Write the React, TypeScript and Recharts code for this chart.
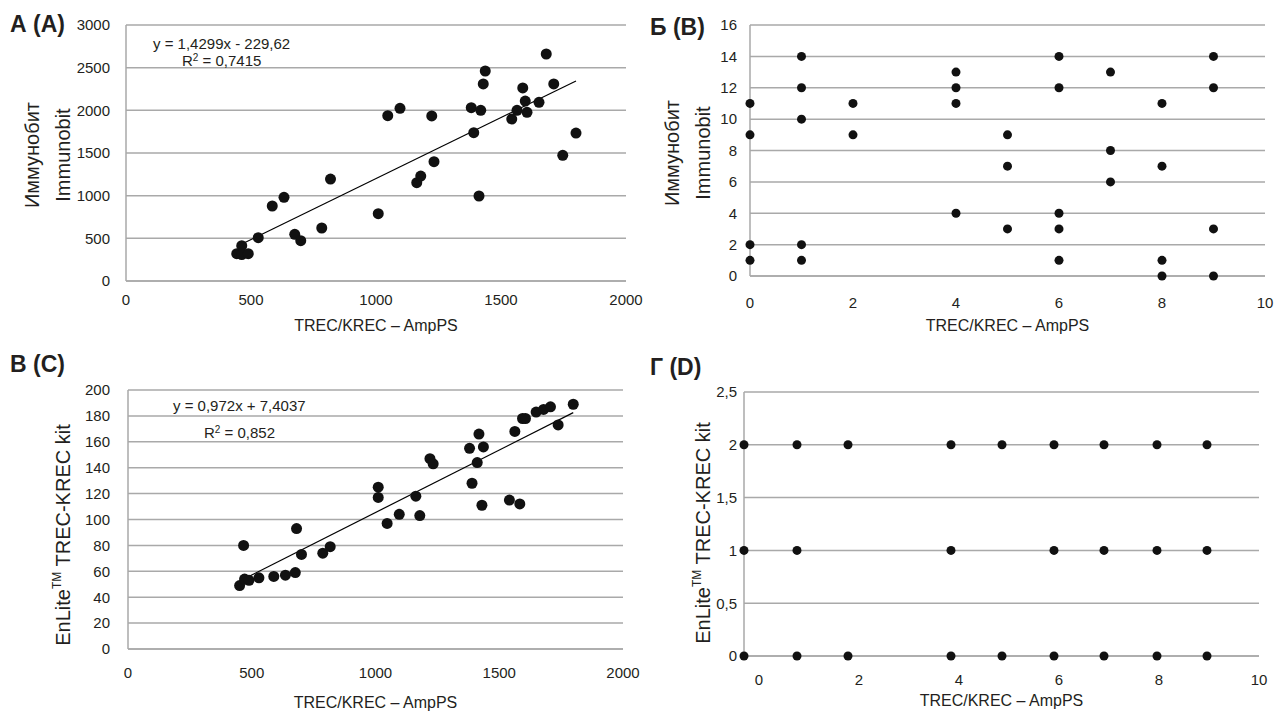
import React from 'react';
import { ScatterChart, Scatter, XAxis, YAxis, CartesianGrid, ReferenceLine } from 'recharts';

// Panel A: Immunobit vs TREC/KREC – AmpPS
const aX = [443, 463, 463, 489, 529, 585, 632, 675, 699, 783, 818, 1009, 1047, 1096, 1163, 1179, 1223, 1232, 1381, 1391, 1412, 1419, 1429, 1437, 1543, 1564, 1587, 1597, 1604, 1652, 1681, 1711, 1747, 1800];
const aY = [320, 414, 310, 320, 508, 879, 981, 547, 473, 621, 1195, 789, 1937, 2023, 1152, 1230, 1934, 1398, 2031, 1738, 996, 2000, 2309, 2461, 1898, 2000, 2262, 2109, 1977, 2094, 2660, 2309, 1473, 1734];
const aTrend = [1.4299, -229.62];

// Panel B
const bX = [0, 0, 0, 0, 1, 1, 1, 1, 1, 2, 2, 4, 4, 4, 4, 5, 5, 5, 6, 6, 6, 6, 6, 7, 7, 7, 8, 8, 8, 8, 9, 9, 9, 9];
const bY = [11, 9, 2, 1, 14, 12, 10, 2, 1, 11, 9, 13, 12, 11, 4, 9, 7, 3, 14, 12, 4, 3, 1, 13, 8, 6, 11, 7, 1, 0, 14, 12, 3, 0];

// Panel C: EnLite vs TREC/KREC – AmpPS
const cX = [451, 471, 489, 529, 467, 589, 636, 676, 681, 701, 787, 817, 1011, 1011, 1047, 1096, 1163, 1179, 1220, 1233, 1380, 1390, 1411, 1418, 1430, 1436, 1541, 1563, 1583, 1594, 1606, 1649, 1679, 1707, 1738, 1799];
const cY = [49, 54, 53, 55, 80, 56, 57, 59, 93, 73, 74, 79, 125, 117, 97, 104, 118, 103, 147, 143, 155, 128, 144, 166, 111, 156, 115, 168, 112, 178, 178, 183, 185, 187, 173, 189];
// line as drawn on the picture (the printed equation is in other units)
const cTrend = [0.0965, 8.9];

// Panel D
const dX = [-0.3, 0.76, 1.78, 3.84, 4.86, 5.9, 6.9, 7.96, 8.96, -0.3, 0.76, 3.84, 5.9, 6.9, 7.96, 8.96, -0.3, 0.76, 1.78, 3.84, 4.86, 5.9, 6.9, 7.96, 8.96];
const dY = [2, 2, 2, 2, 2, 2, 2, 2, 2, 1, 1, 1, 1, 1, 1, 1, 0, 0, 0, 0, 0, 0, 0, 0, 0];

const ampTicks = [0, 500, 1000, 1500, 2000];
const tenTicks = [0, 2, 4, 6, 8, 10];
const aYTicks = [0, 500, 1000, 1500, 2000, 2500, 3000];
const bYTicks = [0, 2, 4, 6, 8, 10, 12, 14, 16];
const cYTicks = [0, 20, 40, 60, 80, 100, 120, 140, 160, 180, 200];
const dYTicks = [0, 0.5, 1, 1.5, 2, 2.5];

const X_TITLE = 'TREC/KREC – AmpPS';
const SANS = '"Liberation Sans", Arial, sans-serif';
const GRID = '#a9a9a9';
const TEXT = '#231f20';
const DOT = '#111';

const zip = (xs: number[], ys: number[]) => xs.map((x, i) => ({ x, y: ys[i] }));

const trendSegment = (xs: number[], t: number[]) => {
  const x0 = Math.min(...xs);
  const x1 = Math.max(...xs);
  return [
    { x: x0, y: t[0] * x0 + t[1] },
    { x: x1, y: t[0] * x1 + t[1] },
  ];
};

const comma = (v: number) => String(v).replace('.', ',');

interface PanelProps {
  left: number;
  top: number;
  width: number;
  height: number;
  plotLeft: number;
  plotRight: number;
  plotTop: number;
  plotBottom: number;
  xDomain: [number, number];
  xTicks: number[];
  yDomain: [number, number];
  yTicks: number[];
  yFmt?: (v: number) => string;
  data: { x: number; y: number }[];
  r: number;
  trend?: { x: number; y: number }[];
  xTickGap: number;
  yTickGap: number;
  xTitleOffset: number;
  yTitle: React.ReactNode;
}

const Panel = (p: PanelProps) => (
  <div style={{ position: 'absolute', left: p.left, top: p.top }}>
    <ScatterChart
      width={p.width}
      height={p.height}
      margin={{ top: p.plotTop, right: p.width - p.plotRight, bottom: 0, left: 0 }}
    >
      <CartesianGrid vertical={false} stroke={GRID} strokeWidth={1.5} />
      <XAxis
        type="number"
        dataKey="x"
        domain={p.xDomain}
        ticks={p.xTicks}
        interval={0}
        height={p.height - p.plotBottom}
        axisLine={{ stroke: GRID, strokeWidth: 1.5 }}
        tickLine={false}
        tickSize={0}
        tickMargin={p.xTickGap}
        tick={{ fill: TEXT, fontSize: 15, fontFamily: SANS }}
        label={{
          value: X_TITLE,
          position: 'insideBottom',
          offset: p.xTitleOffset,
          fill: TEXT,
          fontSize: 16,
          fontFamily: SANS,
        }}
      />
      <YAxis
        type="number"
        dataKey="y"
        domain={p.yDomain}
        ticks={p.yTicks}
        interval={0}
        width={p.plotLeft}
        axisLine={{ stroke: GRID, strokeWidth: 1.5 }}
        tickLine={false}
        tickSize={0}
        tickMargin={p.yTickGap}
        tickFormatter={p.yFmt}
        tick={{ fill: TEXT, fontSize: 15, fontFamily: SANS }}
        label={{ content: () => p.yTitle }}
      />
      {p.trend && <ReferenceLine segment={p.trend} stroke="#000" strokeWidth={1.2} ifOverflow="visible" />}
      <Scatter
        data={p.data}
        isAnimationActive={false}
        shape={(s: any) => <circle cx={s.cx} cy={s.cy} r={p.r} fill={DOT} />}
      />
    </ScatterChart>
  </div>
);

const immunobitTitle = (cy: number) => (
  <g fill={TEXT} fontFamily={SANS} fontSize={20}>
    <text x={39} y={cy} transform={`rotate(-90 39 ${cy})`} textAnchor="middle">Иммунобит</text>
    <text x={70} y={cy} transform={`rotate(-90 70 ${cy})`} textAnchor="middle">Immunobit</text>
  </g>
);

const enliteTitle = (cy: number) => (
  <text x={70} y={cy} transform={`rotate(-90 70 ${cy})`} textAnchor="middle" fill={TEXT} fontFamily={SANS} fontSize={20}>
    EnLite<tspan fontSize={12} dy={-9}>TM</tspan>
    <tspan dy={9}> TREC-KREC kit</tspan>
  </text>
);

const tag: React.CSSProperties = { position: 'absolute', fontFamily: SANS, fontWeight: 'bold', fontSize: 23, lineHeight: '23px', color: TEXT };
const eq: React.CSSProperties = { position: 'absolute', fontFamily: SANS, fontSize: 15, lineHeight: '15px', color: TEXT, whiteSpace: 'nowrap' };
const sup: React.CSSProperties = { fontSize: 10, verticalAlign: 'top', lineHeight: '10px' };

export default function App() {
  return (
    <div style={{ position: 'absolute', left: 0, top: 0, width: 1277, height: 713, background: '#fff', overflow: 'hidden' }}>
      <Panel
        left={0} top={0} width={660} height={340}
        plotLeft={126} plotRight={626} plotTop={25} plotBottom={281}
        xDomain={[0, 2000]} xTicks={ampTicks} yDomain={[0, 3000]} yTicks={aYTicks}
        data={zip(aX, aY)} r={5.5} trend={trendSegment(aX, aTrend)}
        xTickGap={13} yTickGap={16} xTitleOffset={9}
        yTitle={immunobitTitle(155)}
      />
      <Panel
        left={640} top={0} width={637} height={340}
        plotLeft={110} plotRight={625} plotTop={25} plotBottom={276}
        xDomain={[0, 10]} xTicks={tenTicks} yDomain={[0, 16]} yTicks={bYTicks}
        data={zip(bX, bY)} r={4.5}
        xTickGap={21} yTickGap={13} xTitleOffset={9}
        yTitle={immunobitTitle(153)}
      />
      <Panel
        left={0} top={350} width={660} height={363}
        plotLeft={128} plotRight={623} plotTop={40} plotBottom={299}
        xDomain={[0, 2000]} xTicks={ampTicks} yDomain={[0, 200]} yTicks={cYTicks}
        data={zip(cX, cY)} r={5.5} trend={trendSegment(cX, cTrend)}
        xTickGap={18} yTickGap={18} xTitleOffset={5}
        yTitle={enliteTitle(185)}
      />
      <Panel
        left={640} top={350} width={637} height={363}
        plotLeft={104} plotRight={619} plotTop={42} plotBottom={306}
        xDomain={[-0.3, 10]} xTicks={tenTicks} yDomain={[0, 2.5]} yTicks={dYTicks} yFmt={comma}
        data={zip(dX, dY)} r={4.5}
        xTickGap={18} yTickGap={7} xTitleOffset={7}
        yTitle={enliteTitle(183)}
      />

      <div style={{ ...tag, left: 10, top: 13 }}>А (A)</div>
      <div style={{ ...tag, left: 650, top: 16 }}>Б (B)</div>
      <div style={{ ...tag, left: 10, top: 353 }}>В (C)</div>
      <div style={{ ...tag, left: 650, top: 356 }}>Г (D)</div>

      <div style={{ ...eq, left: 153, top: 36 }}>y = 1,4299x - 229,62</div>
      <div style={{ ...eq, left: 182, top: 53 }}>R<span style={sup}>2</span> = 0,7415</div>
      <div style={{ ...eq, left: 173, top: 398 }}>y = 0,972x + 7,4037</div>
      <div style={{ ...eq, left: 204, top: 425 }}>R<span style={sup}>2</span> = 0,852</div>
    </div>
  );
}
